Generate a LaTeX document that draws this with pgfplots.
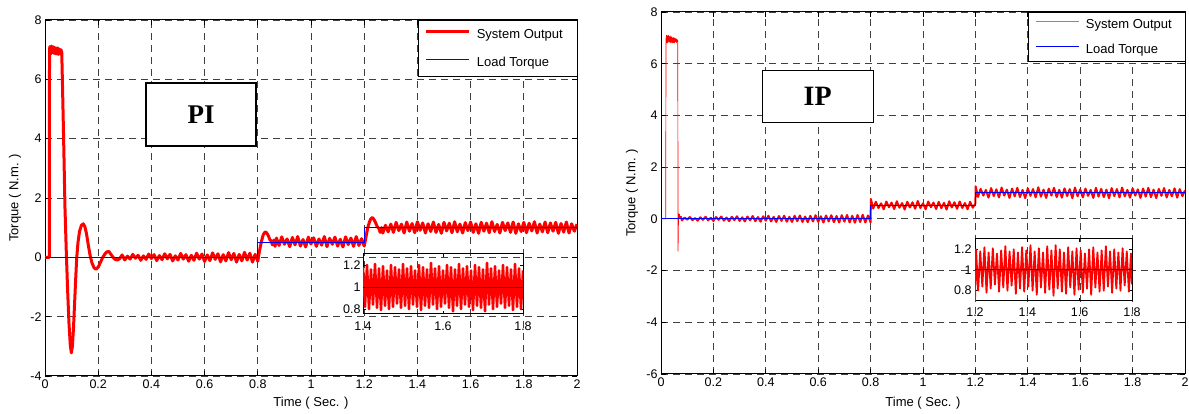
\documentclass[border=0pt]{standalone}
\usepackage{fontspec}
\setmainfont{Liberation Sans}
\newfontfamily\tnr{Liberation Serif}
\usepackage{pgfplots}
\pgfplotsset{compat=1.18}
\pgfplotsset{
  mainax/.style={scale only axis, anchor=south west, xmin=0, xmax=2,
    xtick={0,0.2,0.4,0.6,0.8,1,1.2,1.4,1.6,1.8,2},
    xticklabels={0,0.2,0.4,0.6,0.8,1,1.2,1.4,1.6,1.8,2},
    grid=major, major grid style={black!75, line width=0.8pt, dash pattern=on 7pt off 5pt},
    axis line style={line width=1pt}, tick style={black, line width=0.8pt},
    major tick length=5pt, tick align=inside,
    tick label style={font=\fontsize{12.5}{14}\selectfont},
    label style={font=\fontsize{13}{15}\selectfont},
    xlabel={Time ( Sec. )}, ylabel={Torque ( N.m. )},
    legend cell align=left,
    /pgf/number format/assume math mode=true,
  },
  insetax/.style={scale only axis, anchor=south west, axis line style={line width=1pt},
    tick style={black, line width=0.8pt}, major tick length=3pt, tick align=inside,
    tick label style={font=\fontsize{12.5}{14}\selectfont},
    ytick={0.8,1,1.2}, yticklabels={0.8,1,1.2},
    /pgf/number format/assume math mode=true,
  },
}
\begin{document}
\begin{tikzpicture}
\useasboundingbox (0,0) rectangle (1189pt,414pt);
% ---------------- PI main ----------------
\begin{axis}[mainax, at={(45pt,38pt)}, width=532pt, height=356pt,
  ymin=-4, ymax=8, ytick={-4,-2,0,2,4,6,8}, yticklabels={-4,-2,0,2,4,6,8},
  xlabel style={at={(axis description cs:0.5,-0.0758)}, anchor=center},
  ylabel style={at={(axis description cs:-0.0564,0.5)}, anchor=center},
  legend image code/.code={\draw[#1] (0pt,3pt) -- (43pt,3pt);},
  legend style={at={(1,1)}, anchor=north east, fill=white,
    inner xsep=7pt, inner ysep=7pt, row sep=13pt, font=\fontsize{13}{15}\selectfont,
    /tikz/every odd column/.append style={column sep=4pt}},
]
\addplot[red, line width=3pt, line join=round, forget plot] coordinates {
(0,0)(0.016,0)(0.017,6.9)
(0.018,7.1)(0.021,6.85)(0.024,7.12)(0.027,6.9)(0.030,7.1)(0.033,6.88)(0.036,7.08)(0.039,6.86)(0.042,7.05)(0.045,6.85)(0.048,7.06)(0.051,6.84)(0.054,7.02)(0.057,6.86)(0.060,7.0)(0.063,6.9)
(0.066,5.7)(0.07,4.0)(0.075,1.7)(0.08,0.2)(0.085,-1.1)(0.09,-2.2)(0.095,-2.95)(0.099,-3.22)(0.103,-3.0)(0.107,-2.4)(0.111,-1.6)(0.115,-0.8)(0.119,-0.05)(0.124,0.5)(0.13,0.88)(0.137,1.08)(0.144,1.13)(0.15,1.03)(0.156,0.8)(0.163,0.4)(0.17,0.05)(0.177,-0.2)(0.185,-0.36)(0.192,-0.4)(0.2,-0.33)(0.208,-0.18)(0.216,-0.02)(0.224,0.1)(0.232,0.18)(0.24,0.2)(0.248,0.1)(0.256,0.0)(0.264,-0.07)(0.272,-0.09)
(0.28,-0.05)(0.29,0.08)(0.30,-0.09)(0.31,0.04)(0.32,-0.06)(0.33,0.1)(0.34,-0.03)(0.35,0.07)(0.36,-0.1)(0.37,0.05)(0.38,-0.07)(0.39,0.11)(0.40,-0.04)(0.41,0.09)(0.42,-0.11)(0.43,0.06)(0.44,-0.08)(0.45,0.12)(0.46,-0.05)(0.47,0.1)(0.48,-0.12)(0.49,0.05)(0.50,-0.09)(0.51,0.13)(0.52,-0.06)(0.53,0.09)(0.54,-0.13)(0.55,0.07)(0.56,-0.1)(0.57,0.14)(0.58,-0.06)(0.59,0.11)(0.60,-0.14)(0.61,0.08)(0.62,-0.11)(0.63,0.15)(0.64,-0.07)(0.65,0.12)(0.66,-0.15)(0.67,0.09)(0.68,-0.12)(0.69,0.16)(0.70,-0.08)(0.71,0.13)(0.72,-0.16)(0.73,0.1)(0.74,-0.12)(0.75,0.17)(0.76,-0.09)(0.77,0.14)(0.78,-0.16)(0.79,0.1)(0.80,-0.13)
(0.805,0.15)(0.81,0.38)(0.815,0.58)(0.82,0.75)(0.825,0.83)(0.83,0.86)(0.835,0.8)(0.84,0.72)(0.845,0.6)(0.85,0.55)(0.855,0.42)(0.86,0.58)(0.865,0.37)(0.87,0.65)(0.88,0.4)(0.89,0.69)(0.90,0.44)(0.91,0.62)(0.92,0.36)(0.93,0.67)(0.94,0.42)(0.95,0.7)(0.96,0.38)(0.97,0.6)(0.98,0.35)(0.99,0.68)(1.00,0.45)(1.01,0.66)(1.02,0.37)(1.03,0.62)(1.04,0.41)(1.05,0.7)(1.06,0.36)(1.07,0.64)(1.08,0.44)(1.09,0.68)(1.10,0.38)(1.11,0.61)(1.12,0.35)(1.13,0.69)(1.14,0.43)(1.15,0.65)(1.16,0.37)(1.17,0.7)(1.18,0.4)(1.19,0.63)(1.20,0.38)
(1.205,0.6)(1.21,0.85)(1.215,1.05)(1.22,1.2)(1.225,1.3)(1.23,1.34)(1.235,1.3)(1.24,1.22)(1.245,1.12)(1.25,1.02)(1.255,0.98)(1.26,0.84)(1.265,1.0)(1.27,0.82)(1.28,1.08)(1.29,0.86)(1.30,1.12)
(1.31,0.84)(1.32,1.18)(1.33,0.9)(1.34,1.12)(1.35,0.82)(1.36,1.19)(1.37,0.88)(1.38,1.14)(1.39,0.83)(1.40,1.2)(1.41,0.91)(1.42,1.16)(1.43,0.82)(1.44,1.13)(1.45,0.87)(1.46,1.19)(1.47,0.84)(1.48,1.11)(1.49,0.81)(1.50,1.18)(1.51,0.89)(1.52,1.15)(1.53,0.83)(1.54,1.2)(1.55,0.86)(1.56,1.12)(1.57,0.82)(1.58,1.17)(1.59,0.9)(1.60,1.19)(1.61,0.84)(1.62,1.13)(1.63,0.81)(1.64,1.18)(1.65,0.88)(1.66,1.15)(1.67,0.83)(1.68,1.2)(1.69,0.87)(1.70,1.11)(1.71,0.82)(1.72,1.18)(1.73,0.9)(1.74,1.16)(1.75,0.84)(1.76,1.19)(1.77,0.81)(1.78,1.13)(1.79,0.87)(1.80,1.18)(1.81,0.83)(1.82,1.15)(1.83,0.89)(1.84,1.2)(1.85,0.82)(1.86,1.12)(1.87,0.86)(1.88,1.19)(1.89,0.83)(1.90,1.16)(1.91,0.88)(1.92,1.18)(1.93,0.81)(1.94,1.14)(1.95,0.85)(1.96,1.19)(1.97,0.82)(1.98,1.13)(1.99,0.88)(2.00,1.12)
};
\addplot[blue, line width=1pt, forget plot] coordinates {(0,0)(0.8,0)(0.8,0.5)(1.2,0.5)(1.2,1)(2,1)};
\addlegendimage{color=red, draw=red, line width=3pt}
\addlegendentry{System Output\kern5pt}
\addlegendimage{color=blue, draw=blue, line width=1.2pt}
\addlegendentry{Load Torque}
\node[draw=black, line width=1.3pt, fill=white, minimum width=110pt, minimum height=63pt, inner sep=0pt,
  font=\tnr\bfseries\fontsize{27}{30}\selectfont] at (axis cs:0.587,4.81) {PI};
\end{axis}
% ---------------- PI inset ----------------
\begin{axis}[insetax, at={(363pt,100pt)}, width=160pt, height=60pt,
  xmin=1.4, xmax=1.8, ymin=0.755, ymax=1.3,
  xtick={1.4,1.6,1.8}, xticklabels={1.4,1.6,1.8},
  xticklabel style={yshift=-4pt}, yticklabel style={xshift=1pt}]
\addplot[red, line width=2.5pt, line join=round] coordinates {
(1.400,1.18)(1.405,0.82)(1.410,1.2)(1.415,0.8)(1.420,1.16)(1.425,0.84)(1.430,1.21)(1.435,0.81)(1.440,1.17)(1.445,0.79)(1.450,1.19)(1.455,0.83)(1.460,1.15)(1.465,0.8)(1.470,1.2)(1.475,0.82)(1.480,1.18)(1.485,0.85)(1.490,1.16)(1.495,0.81)(1.500,1.21)(1.505,0.83)(1.510,1.17)(1.515,0.8)(1.520,1.19)(1.525,0.84)(1.530,1.15)(1.535,0.82)(1.540,1.2)(1.545,0.79)(1.550,1.18)(1.555,0.83)(1.560,1.16)(1.565,0.81)(1.570,1.22)(1.575,0.84)(1.580,1.17)(1.585,0.8)(1.590,1.19)(1.595,0.82)(1.600,1.15)(1.605,0.85)(1.610,1.2)(1.615,0.81)(1.620,1.18)(1.625,0.78)(1.630,1.16)(1.635,0.83)(1.640,1.21)(1.645,0.8)(1.650,1.17)(1.655,0.84)(1.660,1.19)(1.665,0.82)(1.670,1.15)(1.675,0.79)(1.680,1.2)(1.685,0.83)(1.690,1.18)(1.695,0.81)(1.700,1.16)(1.705,0.78)(1.710,1.22)(1.715,0.84)(1.720,1.17)(1.725,0.8)(1.730,1.19)(1.735,0.82)(1.740,1.15)(1.745,0.85)(1.750,1.2)(1.755,0.81)(1.760,1.18)(1.765,0.83)(1.770,1.16)(1.775,0.79)(1.780,1.21)(1.785,0.82)(1.790,1.17)(1.795,0.8)(1.800,1.15)
};
\addplot[blue, line width=1pt] coordinates {(1.4,1)(1.8,1)};
\end{axis}
% ---------------- IP main ----------------
\begin{axis}[mainax, at={(661pt,40pt)}, width=524pt, height=362pt,
  ymin=-6, ymax=8, ytick={-6,-4,-2,0,2,4,6,8}, yticklabels={-6,-4,-2,0,2,4,6,8},
  xlabel style={at={(axis description cs:0.5,-0.080)}, anchor=center},
  ylabel style={at={(axis description cs:-0.0553,0.5)}, anchor=center},
  legend image code/.code={\draw[#1] (0pt,3pt) -- (43pt,3pt);},
  legend style={at={(1,1)}, anchor=north east, fill=white,
    inner xsep=7pt, inner ysep=5pt, row sep=10pt, font=\fontsize{13}{15}\selectfont,
    /tikz/every odd column/.append style={column sep=4pt}},
]
\addplot[red, line width=0.7pt, line join=round, forget plot] coordinates {
(0,0)(0.018,0)(0.019,6.95)(0.021,7.1)(0.023,6.8)(0.025,7.08)(0.027,6.82)(0.029,7.1)(0.031,6.85)(0.033,7.05)(0.035,6.8)(0.037,7.07)(0.039,6.83)(0.041,7.03)(0.043,6.8)(0.045,7.0)(0.047,6.82)(0.049,7.02)(0.051,6.8)(0.053,6.98)(0.055,6.85)(0.057,6.97)(0.059,6.82)(0.061,6.95)(0.063,6.85)(0.064,6.9)(0.065,-1.25)(0.067,0.2)(0.069,0.05)(0.071,0.18)(0.073,0.0)(0.075,0.1)
};
\addplot[red, line width=2pt, line join=round, forget plot] coordinates {
(0.075,0.1)(0.08,-0.06)(0.09,0.05)(0.10,-0.03)(0.11,0.07)(0.12,-0.05)(0.13,0.03)(0.14,-0.07)(0.15,0.06)(0.16,-0.04)(0.17,0.08)(0.18,-0.06)(0.19,0.04)(0.20,-0.08)(0.21,0.07)(0.22,-0.04)(0.23,0.09)(0.24,-0.07)(0.25,0.05)(0.26,-0.09)(0.27,0.08)(0.28,-0.05)(0.29,0.1)(0.30,-0.08)(0.31,0.06)(0.32,-0.1)(0.33,0.09)(0.34,-0.06)(0.35,0.11)(0.36,-0.09)(0.37,0.07)(0.38,-0.11)(0.39,0.1)(0.40,-0.07)(0.41,0.12)(0.42,-0.1)(0.43,0.08)(0.44,-0.12)(0.45,0.11)(0.46,-0.08)(0.47,0.12)(0.48,-0.11)(0.49,0.08)(0.50,-0.12)(0.51,0.12)(0.52,-0.09)(0.53,0.13)(0.54,-0.12)(0.55,0.09)(0.56,-0.13)(0.57,0.12)(0.58,-0.1)(0.59,0.14)(0.60,-0.12)(0.61,0.1)(0.62,-0.14)(0.63,0.13)(0.64,-0.1)(0.65,0.14)(0.66,-0.13)(0.67,0.11)(0.68,-0.14)(0.69,0.14)(0.70,-0.11)(0.71,0.15)(0.72,-0.14)(0.73,0.12)(0.74,-0.15)(0.75,0.15)(0.76,-0.12)(0.77,0.16)(0.78,-0.14)(0.79,0.13)(0.80,-0.14)
(0.801,0.77)(0.81,0.4)(0.82,0.66)(0.83,0.42)(0.84,0.6)(0.85,0.37)(0.86,0.67)(0.87,0.45)(0.88,0.63)(0.89,0.38)(0.90,0.68)(0.91,0.43)(0.92,0.61)(0.93,0.36)(0.94,0.66)(0.95,0.44)(0.96,0.64)(0.97,0.39)(0.98,0.69)(0.99,0.42)(1.00,0.6)(1.01,0.37)(1.02,0.67)(1.03,0.45)(1.04,0.63)(1.05,0.38)(1.06,0.66)(1.07,0.41)(1.08,0.62)(1.09,0.36)(1.10,0.68)(1.11,0.44)(1.12,0.64)(1.13,0.39)(1.14,0.67)(1.15,0.42)(1.16,0.61)(1.17,0.37)(1.18,0.66)(1.19,0.43)(1.20,0.6)
(1.201,1.26)(1.21,0.85)(1.22,1.16)(1.23,0.9)(1.24,1.12)(1.25,0.82)(1.26,1.19)(1.27,0.88)(1.28,1.14)(1.29,0.83)(1.30,1.21)(1.31,0.9)(1.32,1.13)(1.33,0.81)(1.34,1.17)(1.35,0.87)(1.36,1.2)(1.37,0.84)(1.38,1.12)(1.39,0.8)(1.40,1.18)(1.41,0.89)(1.42,1.15)(1.43,0.83)(1.44,1.22)(1.45,0.86)(1.46,1.13)(1.47,0.81)(1.48,1.17)(1.49,0.9)(1.50,1.2)(1.51,0.84)(1.52,1.12)(1.53,0.82)(1.54,1.18)(1.55,0.88)(1.56,1.15)(1.57,0.8)(1.58,1.21)(1.59,0.87)(1.60,1.14)(1.61,0.83)(1.62,1.17)(1.63,0.89)(1.64,1.12)(1.65,0.81)(1.66,1.2)(1.67,0.86)(1.68,1.16)(1.69,0.84)(1.70,1.13)(1.71,0.8)(1.72,1.19)(1.73,0.88)(1.74,1.15)(1.75,0.83)(1.76,1.21)(1.77,0.87)(1.78,1.12)(1.79,0.82)(1.80,1.18)(1.81,0.9)(1.82,1.14)(1.83,0.81)(1.84,1.17)(1.85,0.86)(1.86,1.2)(1.87,0.84)(1.88,1.13)(1.89,0.8)(1.90,1.16)(1.91,0.89)(1.92,1.19)(1.93,0.83)(1.94,1.12)(1.95,0.87)(1.96,1.18)(1.97,0.82)(1.98,1.15)(1.99,0.88)(2.00,1.1)
};
\addplot[blue, line width=1pt, forget plot] coordinates {(0,0)(0.8,0)(0.8,0.5)(1.2,0.5)(1.2,1)(2,1)};
\addlegendimage{color=red!65, draw=red!65, line width=1.2pt}
\addlegendentry{System Output\kern4pt}
\addlegendimage{color=blue, draw=blue, line width=1.2pt}
\addlegendentry{Load Torque}
\node[draw=black, line width=1.3pt, fill=white, minimum width=111pt, minimum height=52pt, inner sep=0pt,
  font=\tnr\bfseries\fontsize{28}{30}\selectfont] at (axis cs:0.598,4.72) {IP};
\end{axis}
% ---------------- IP inset ----------------
\begin{axis}[insetax, at={(975pt,113pt)}, width=157pt, height=62pt,
  xmin=1.2, xmax=1.8, ymin=0.7, ymax=1.3,
  xtick={1.2,1.4,1.6,1.8}, xticklabels={1.2,1.4,1.6,1.8},
  xticklabel style={yshift=-3pt}]
\addplot[red, line width=1.8pt, line join=round] coordinates {
(1.2,0.7)(1.204,1.2)(1.212,0.8)(1.22,1.18)(1.228,0.84)(1.236,1.22)(1.244,0.78)(1.252,1.17)(1.26,0.82)(1.268,1.21)(1.276,0.86)(1.284,1.16)(1.292,0.79)(1.30,1.19)(1.308,0.83)(1.316,1.23)(1.324,0.8)(1.332,1.18)(1.34,0.85)(1.348,1.2)(1.356,0.77)(1.364,1.17)(1.372,0.82)(1.38,1.22)(1.388,0.79)(1.396,1.19)(1.404,0.84)(1.412,1.24)(1.42,0.8)(1.428,1.18)(1.436,0.76)(1.444,1.21)(1.452,0.83)(1.46,1.17)(1.468,0.78)(1.476,1.23)(1.484,0.81)(1.492,1.19)(1.50,0.75)(1.508,1.24)(1.516,0.82)(1.524,1.2)(1.532,0.79)(1.54,1.17)(1.548,0.77)(1.556,1.22)(1.564,0.83)(1.572,1.18)(1.58,0.76)(1.588,1.21)(1.596,0.81)(1.604,1.19)(1.612,0.78)(1.62,1.16)(1.628,0.82)(1.636,1.2)(1.644,0.76)(1.652,1.22)(1.66,0.83)(1.668,1.17)(1.676,0.79)(1.684,1.19)(1.692,0.8)(1.70,1.23)(1.708,0.84)(1.716,1.18)(1.724,0.78)(1.732,1.2)(1.74,0.82)(1.748,1.17)(1.756,0.8)(1.764,1.21)(1.772,0.85)(1.78,1.18)(1.788,0.79)(1.796,1.16)(1.8,0.86)
};
\addplot[blue, line width=1pt] coordinates {(1.2,1)(1.8,1)};
\end{axis}
\end{tikzpicture}
\end{document}
